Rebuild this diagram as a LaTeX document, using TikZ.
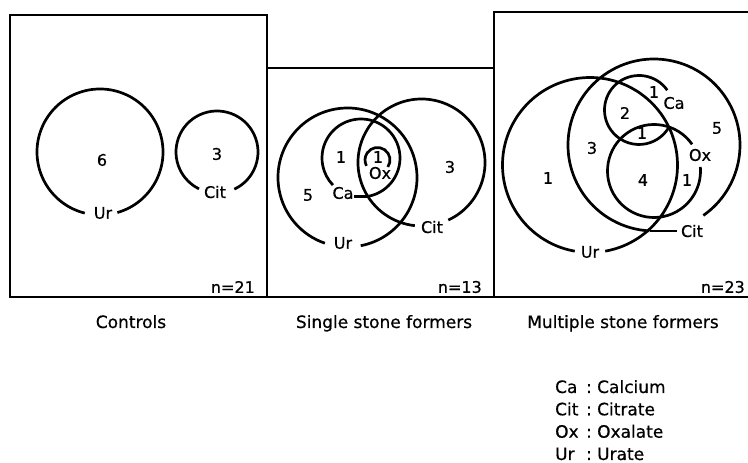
\documentclass[tikz,border=0pt]{standalone}
\usepackage{fontspec}
\setmainfont{DejaVu Sans}[FakeBold=0.6]
\tikzset{
  circ/.style={line width=2.7pt},
  frame/.style={line width=2.4pt},
  lbl/.style={inner sep=0pt, font=\fontsize{16}{18}\selectfont},
  nlbl/.style={inner sep=0pt, anchor=east, font=\fontsize{16}{18}\selectfont},
  captxt/.style={inner sep=0pt, anchor=base, font=\fontsize{17}{20}\selectfont},
  leg/.style={inner sep=0pt, anchor=base west, font=\fontsize{17}{20}\selectfont},
  legcolon/.style={inner sep=0pt, anchor=base, font=\fontsize{17}{20}\selectfont},
}
\newcommand\openarc[4]{\draw[circ] ([shift={(#2:#4)}]#1) arc[start angle=#2, end angle=#3, radius=#4];}
\begin{document}
\begin{tikzpicture}[x=1pt,y=1pt]
\useasboundingbox (0,0) rectangle (748,463);
% frames
\draw[frame] (10,448) rectangle (267,166);
\draw[frame] (267,395) rectangle (494,166);
\draw[frame] (748,451) -- (494,451) -- (494,166) -- (748,166);

% ---------- Controls ----------
\coordinate (ur1) at (100,311);
\coordinate (cit1) at (217,311);
\openarc{ur1}{-74}{256}{63pt}
\openarc{cit1}{-65}{244}{41pt}
\node[lbl] (ur1l) at (103,250) {Ur};
\node[lbl] (cit1l) at (215,271) {Cit};
\node[lbl] (n6) at (102,303) {6};
\node[lbl] (n3a) at (217,309) {3};
\node[nlbl] (nA) at (255,176) {n=21};

% ---------- Single stone formers ----------
\coordinate (ur2) at (347.5,285.5);
\coordinate (cit2) at (421.5,300.5);
\coordinate (ca2) at (361,305);
\coordinate (ox2) at (377.5,303);
\openarc{ur2}{-79}{251}{69.5pt}
\openarc{cit2}{-65}{264}{63.5pt}
\openarc{ca2}{-79}{224}{39pt}
\openarc{ox2}{-34}{208}{12.5pt}
\node[lbl] (ur2l) at (343,220) {Ur};
\node[lbl] (cit2l) at (432,236) {Cit};
\node[lbl] (ca2l) at (343,270) {Ca};
\node[lbl] (ox2l) at (380,290) {Ox};
\coordinate (ca2end) at ([shift={(-79:39pt)}]ca2);
\draw[circ] (ca2end) -- (ca2end -| ca2l.east);
\node[lbl] (s1a) at (341,306) {1};
\node[lbl] (s1b) at (378,306) {1};
\node[lbl] (s5) at (308,268) {5};
\node[lbl] (s3) at (450,296) {3};
\node[nlbl] (nB) at (482,176) {n=13};

% ---------- Multiple stone formers ----------
\coordinate (ur3) at (590,298);
\coordinate (cit3) at (654,318);
\coordinate (ca3) at (639,353);
\coordinate (ox3) at (654,292);
\openarc{ur3}{-80}{260}{87.5pt}
\openarc{cit3}{-55}{267}{86pt}
\openarc{ca3}{35}{330}{34.5pt}
\openarc{ox3}{35}{365}{46.5pt}
\node[lbl] (ur3l) at (590,211) {Ur};
\node[lbl] (cit3l) at (692,232) {Cit};
\node[lbl] (ca3l) at (674,360) {Ca};
\node[lbl] (ox3l) at (700,308) {Ox};
\coordinate (cit3end) at ([shift={(267:86pt)}]cit3);
\draw[circ] (cit3end) -- ([xshift=-4pt]cit3end -| cit3l.west);
\node[lbl] (m1a) at (548,285) {1};
\node[lbl] (m3) at (592,315) {3};
\node[lbl] (m2) at (625,350) {2};
\node[lbl] (m1b) at (642,330) {1};
\node[lbl] (m4) at (643,283) {4};
\node[lbl] (m1c) at (687,283) {1};
\node[lbl] (m5) at (717,335) {5};
\node[lbl] (m1d) at (654,371) {1};
\node[nlbl] (nC) at (745,176) {n=23};

% ---------- captions ----------
\node[captxt] (c1) at (131,135) {Controls};
\node[captxt] (c2) at (384,135) {Single stone formers};
\node[captxt] (c3) at (623,135) {Multiple stone formers};

% ---------- legend ----------
\node[leg] (la) at (555,70) {Ca};
\node[legcolon] (lac) at (589,70) {:};
\node[leg] (law) at (597,70) {Calcium};
\node[leg] (lb) at (555,47.7) {Cit};
\node[legcolon] (lbc) at (589,47.7) {:};
\node[leg] (lbw) at (597,47.7) {Citrate};
\node[leg] (lc) at (555,25.3) {Ox};
\node[legcolon] (lcc) at (589,25.3) {:};
\node[leg] (lcw) at (597,25.3) {Oxalate};
\node[leg] (ld) at (555,3) {Ur};
\node[legcolon] (ldc) at (589,3) {:};
\node[leg] (ldw) at (597,3) {Urate};
\end{tikzpicture}
\end{document}
